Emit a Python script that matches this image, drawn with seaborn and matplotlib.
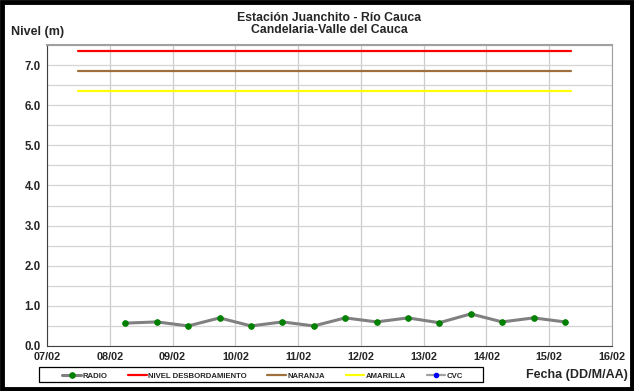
import matplotlib
matplotlib.use("Agg")
import matplotlib.pyplot as plt
import matplotlib.dates as mdates
from matplotlib.patches import Rectangle
from matplotlib.ticker import MultipleLocator
import seaborn as sns
import pandas as pd

# lecturas RADIO cada 12 h
fechas_radio = pd.date_range("2021-02-08 06:00", "2021-02-15 06:00", freq="12h")
nivel_radio = [0.57, 0.60, 0.50, 0.70, 0.50, 0.60, 0.50, 0.70,
               0.60, 0.70, 0.58, 0.80, 0.60, 0.70, 0.60]

# umbrales de alerta
umbral_inicio = pd.Timestamp("2021-02-07 12:00")
umbral_fin = pd.Timestamp("2021-02-15 08:30")
nivel_desbordamiento = 7.35
nivel_naranja = 6.85
nivel_amarilla = 6.35

titulo = "Estación Juanchito - Río Cauca\nCandelaria-Valle del Cauca"

sns.set_style("white")
plt.rcParams["font.family"] = ["Liberation Sans", "DejaVu Sans"]
plt.rcParams["font.weight"] = "bold"

fig = plt.figure(figsize=(6.34, 3.91), dpi=100)
ax = fig.add_axes([0.0741, 0.1151, 0.8912, 0.7698])

radio = pd.DataFrame({"fecha": fechas_radio, "nivel": nivel_radio})
sns.lineplot(data=radio, x="fecha", y="nivel", ax=ax, color="#808080",
             linewidth=2.2, marker="o", markersize=4, markerfacecolor="#008000",
             markeredgecolor="#008000", label="RADIO", zorder=3)

umbrales = [("NIVEL DESBORDAMIENTO", nivel_desbordamiento, "#ff0000"),
            ("NARANJA", nivel_naranja, "#a0703c"),
            ("AMARILLA", nivel_amarilla, "#ffff00")]
for nombre, nivel, color in umbrales:
    df = pd.DataFrame({"fecha": [umbral_inicio, umbral_fin], "nivel": [nivel, nivel]})
    sns.lineplot(data=df, x="fecha", y="nivel", ax=ax, color=color,
                 linewidth=1.6, label=nombre, zorder=2)

# CVC sin datos, solo leyenda
ax.plot([], [], color="#a0a0a0", linewidth=1.6, marker="o", markersize=3,
        markerfacecolor="#0000ff", markeredgecolor="#0000ff", label="CVC")

ax.set_xlim(pd.Timestamp("2021-02-07"), pd.Timestamp("2021-02-16"))
ax.set_ylim(0, 7.5)
ax.xaxis.set_major_locator(mdates.DayLocator())
ax.xaxis.set_major_formatter(mdates.DateFormatter("%d/%m"))
ax.yaxis.set_major_locator(MultipleLocator(1.0))
ax.yaxis.set_minor_locator(MultipleLocator(0.5))
ax.yaxis.set_major_formatter(lambda v, p: f"{v:.1f}")

ax.grid(True, which="major", axis="x", color="#cccccc", linewidth=0.9)
ax.grid(True, which="both", axis="y", color="#d4d4d4", linewidth=0.9)
ax.set_axisbelow(True)
ax.tick_params(axis="both", which="major", direction="out", length=3, width=0.8,
               color="#404040", pad=1.5)
ax.tick_params(axis="x", labelsize=7.8)
ax.tick_params(axis="y", labelsize=8.3)
ax.tick_params(axis="y", which="minor", length=0)
for lab in ax.get_xticklabels() + ax.get_yticklabels():
    lab.set_fontweight("bold")
ax.spines["left"].set_color("#404040")
ax.spines["bottom"].set_color("#404040")
ax.spines["top"].set_color("#a0a0a0")
ax.spines["right"].set_color("#a0a0a0")
ax.spines["top"].set_linewidth(1.5)
ax.set_xlabel("")
ax.set_ylabel("")

fig.text(0.519, 0.970, titulo, ha="center", va="top", fontsize=8.8,
         fontweight="bold", linespacing=1.0)
fig.text(0.017, 0.919, "Nivel (m)", ha="left", va="center", fontsize=9.0,
         fontweight="bold")
fig.text(0.991, 0.042, "Fecha (DD/M/AA)", ha="right", va="center", fontsize=9.0,
         fontweight="bold")

# leyenda sin marco; el recuadro se dibuja aparte
leg = ax.legend(loc="lower left", bbox_to_anchor=(0.0946, 0.023, 0.64, 0.0384),
                bbox_transform=fig.transFigure, ncol=5, fontsize=5.6, mode="expand",
                frameon=False, handlelength=2.4, handletextpad=0.2,
                columnspacing=1.0, borderpad=0.3, borderaxespad=0)
for t in leg.get_texts():
    t.set_fontweight("bold")
fig.patches.append(Rectangle((0.0615, 0.023), 0.7003, 0.0384, transform=fig.transFigure,
                             fill=False, edgecolor="black", linewidth=0.9))

# marco negro exterior
fig.patches.append(Rectangle((0.003, 0.006), 0.994, 0.989, transform=fig.transFigure,
                             fill=False, edgecolor="black", linewidth=3.5))

fig.savefig("out.png", dpi=100)
